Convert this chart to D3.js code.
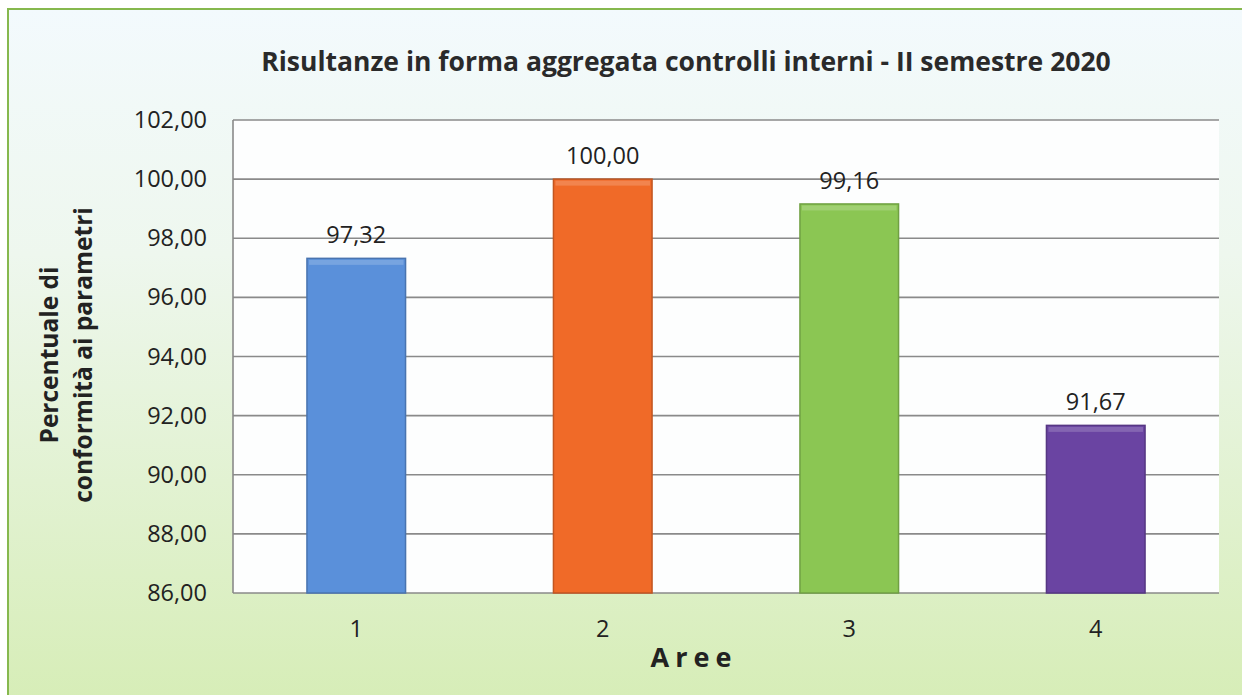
<!DOCTYPE html>
<html><head><meta charset="utf-8">
<script src="https://cdn.jsdelivr.net/npm/d3@7"></script>
<style>body{margin:0;background:#fff}svg{display:block}</style>
</head><body>
<svg id="c" width="1242" height="695"></svg>
<script>
const categories = ["1","2","3","4"];
const values = [97.32, 100.00, 99.16, 91.67];
const valueLabels = ["97,32","100,00","99,16","91,67"];
const yTicks = [86,88,90,92,94,96,98,100,102];
const barColors = ["#5a90da","#f06a28","#8bc653","#6a44a2"];
const title = "Risultanze in forma aggregata controlli interni - II semestre 2020";
const xTitle = "Aree";
const yTitle = ["Percentuale di","conformità ai parametri"];

const svg = d3.select("#c");
const defs = svg.append("defs");
const bg = defs.append("linearGradient").attr("id","bg").attr("x1",0).attr("y1",0).attr("x2",0).attr("y2",1);
bg.append("stop").attr("offset","0%").attr("stop-color","#f3fafd");
bg.append("stop").attr("offset","35%").attr("stop-color","#eef7ee");
bg.append("stop").attr("offset","100%").attr("stop-color","#d6edb6");

svg.append("rect").attr("x",8).attr("y",9).attr("width",1242).attr("height",700)
  .attr("fill","url(#bg)").attr("stroke","#86b84e").attr("stroke-width",2);

const pL=233, pR=1219, pT=120, pB=593;
const x = d3.scaleBand().domain(categories).range([pL,pR]).paddingInner(0.6).paddingOuter(0.3);
const y = d3.scaleLinear().domain([86,102]).range([pB,pT]);

svg.append("rect").attr("x",pL).attr("y",pT).attr("width",pR-pL).attr("height",pB-pT).attr("fill","#fdfefe");

svg.append("g").selectAll("line").data(yTicks).join("line")
  .attr("x1",pL).attr("x2",pR).attr("y1",d=>y(d)).attr("y2",d=>y(d))
  .attr("stroke","#8a8a8a").attr("stroke-width",1.6);
svg.append("line").attr("x1",pL).attr("x2",pL).attr("y1",pT).attr("y2",pB)
  .attr("stroke","#8a8a8a").attr("stroke-width",1.6);

const F = "Open Sans, sans-serif";
const yAxis = d3.axisLeft(y).tickValues(yTicks).tickSize(0).tickPadding(26)
  .tickFormat(d=>d3.format(".2f")(d).replace(".",","));
const gy = svg.append("g").attr("transform",`translate(${pL},0)`).call(yAxis);
gy.select(".domain").remove();
gy.selectAll("text").attr("font-family",F).attr("font-size",23.5).attr("fill","#222");

const xAxis = d3.axisBottom(x).tickSize(0).tickPadding(27);
const gx = svg.append("g").attr("transform",`translate(0,${pB})`).call(xAxis);
gx.select(".domain").remove();
gx.selectAll("text").attr("font-family",F).attr("font-size",23.5).attr("fill","#222");

const bars = svg.append("g").selectAll("g").data(values).join("g");
bars.append("rect")
  .attr("x",(d,i)=>x(categories[i])).attr("width",x.bandwidth())
  .attr("y",d=>y(d)).attr("height",d=>pB-y(d))
  .attr("fill",(d,i)=>barColors[i])
  .attr("stroke",(d,i)=>d3.color(barColors[i]).darker(0.6)).attr("stroke-width",1.5);
bars.append("rect")
  .attr("x",(d,i)=>x(categories[i])+2).attr("width",x.bandwidth()-4)
  .attr("y",d=>y(d)+1.5).attr("height",5)
  .attr("fill","#fff").attr("opacity",0.18);

svg.append("g").selectAll("text").data(values).join("text")
  .attr("x",(d,i)=>x(categories[i])+x.bandwidth()/2).attr("y",d=>y(d)-15)
  .attr("text-anchor","middle").attr("font-family",F).attr("font-size",23.5).attr("fill","#222")
  .text((d,i)=>valueLabels[i]);

svg.append("text").attr("x",686).attr("y",71).attr("text-anchor","middle")
  .attr("font-family",F).attr("font-weight","bold").attr("font-size",26.5).attr("fill","#2a2a2a")
  .text(title);

svg.append("text").attr("x",694).attr("y",667).attr("text-anchor","middle")
  .attr("font-family",F).attr("font-weight","bold").attr("font-size",27).attr("letter-spacing","6px").attr("fill","#222")
  .text(xTitle);

const yt = svg.append("text").attr("transform","rotate(-90)")
  .attr("text-anchor","middle").attr("font-family",F).attr("font-weight","bold").attr("font-size",24.5).attr("fill","#222");
yt.selectAll("tspan").data(yTitle).join("tspan")
  .attr("x",-355).attr("y",(d,i)=>58+i*34).text(d=>d);
</script>
</body></html>
